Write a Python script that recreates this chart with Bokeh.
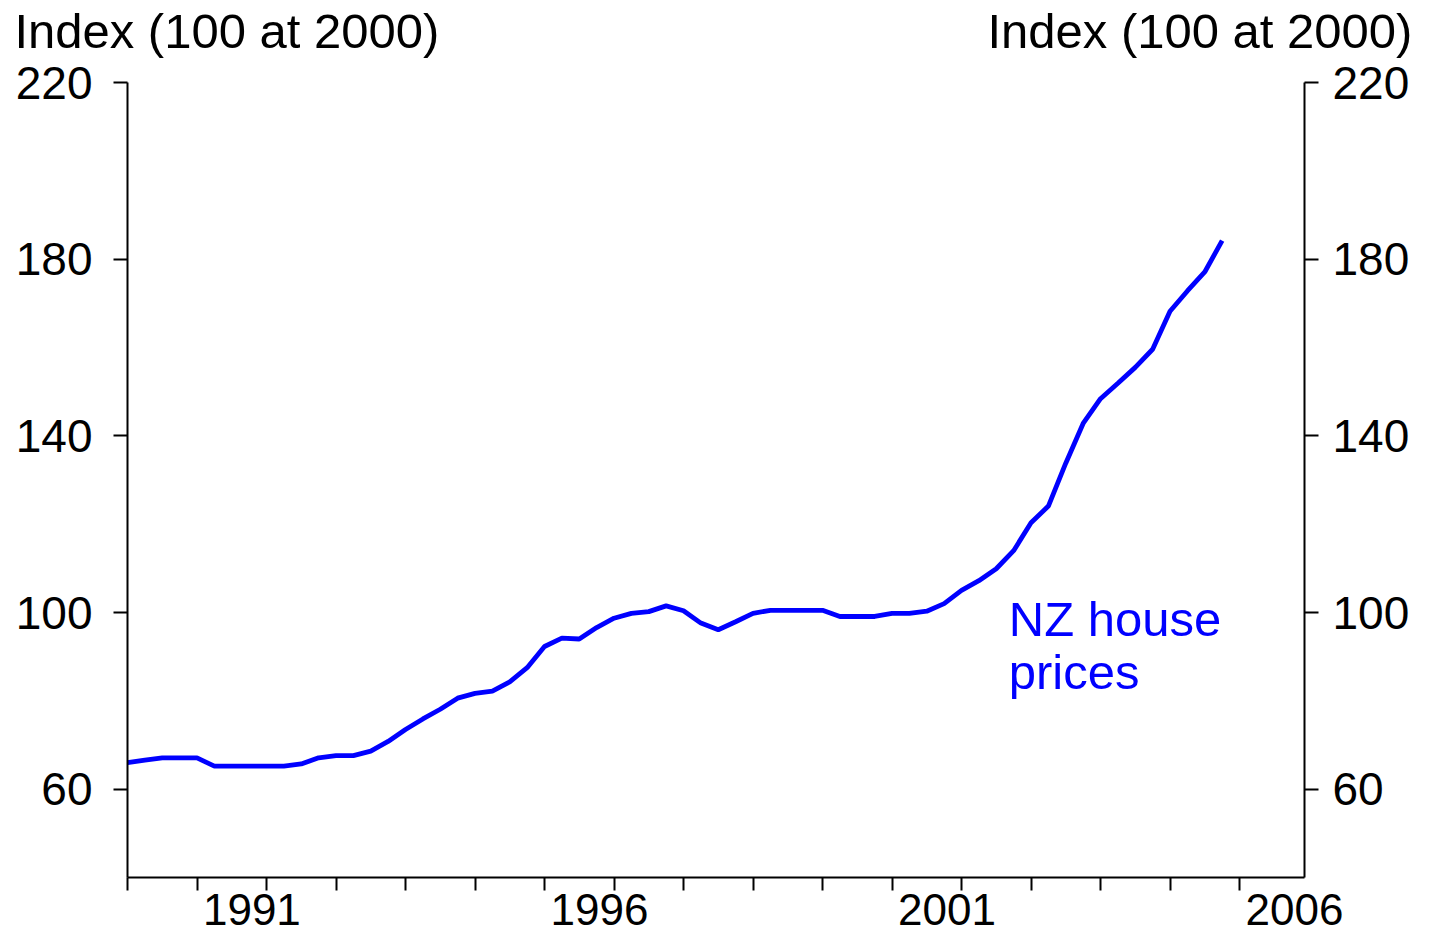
import numpy as np
from bokeh.plotting import figure
from bokeh.models import Range1d, LinearAxis, FixedTicker, ColumnDataSource
from bokeh.core.properties import value
from bokeh.embed import file_html
from bokeh.resources import INLINE

# ---- data (quarterly, 1989Q1 .. 2004Q4) ----
start_year = 1989
n_quarters = 64
dates = [start_year + i * 0.25 for i in range(n_quarters)]
nz_house_prices = [
    66.0, 66.6, 67.1, 67.1, 67.1, 65.2, 65.2, 65.2,
    65.2, 65.2, 65.7, 67.1, 67.6, 67.6, 68.6, 70.8,
    73.5, 75.9, 78.1, 80.6, 81.7, 82.2, 84.3, 87.5,
    92.3, 94.2, 94.0, 96.6, 98.7, 99.8, 100.2, 101.5,
    100.4, 97.6, 96.1, 97.9, 99.8, 100.5, 100.5, 100.5,
    100.5, 99.1, 99.1, 99.1, 99.8, 99.8, 100.3, 102.0,
    105.0, 107.2, 109.9, 114.0, 120.3, 124.1, 133.8, 142.8,
    148.4, 151.9, 155.5, 159.6, 168.2, 172.8, 177.1, 184.2,
]
year_ticks = list(range(1989, 2006))
year_labels = ["1991", "1996", "2001", "2006"]
year_label_pos = [1990.79, 1995.79, 2000.79, 2005.79]
y_ticks = [60, 100, 140, 180, 220]
axis_title = "Index (100 at 2000)"
title_pos = [1990.43, 2004.43]      # centres of the left / right axis titles
series_name = ["NZ house", "prices"]

FONT = "Liberation Sans"
BLUE = "#0000FF"

p = figure(width=1413, height=933, output_backend="svg", toolbar_location=None,
           x_range=Range1d(1989.0, 2005.935), y_range=Range1d(40, 220),
           min_border_left=127, min_border_right=109, min_border_top=82,
           min_border_bottom=56)
p.outline_line_color = None
p.xgrid.visible = False
p.ygrid.visible = False

src = ColumnDataSource(dict(x=dates, y=nz_house_prices))
p.line("x", "y", source=src, line_color=BLUE, line_width=4.8)

# bottom axis
xa = p.below[0]
xa.ticker = FixedTicker(ticks=year_label_pos, minor_ticks=year_ticks)
xa.major_label_overrides = {pos: lab for pos, lab in zip(year_label_pos, year_labels)}
xa.major_tick_out = 0
xa.major_tick_in = 0
xa.minor_tick_out = 13
xa.minor_tick_in = 0
xa.minor_tick_line_color = "black"
xa.minor_tick_line_width = 2
xa.axis_line_width = 2
xa.axis_line_color = "black"
xa.major_label_standoff = 3
xa.major_label_text_font = FONT
xa.major_label_text_font_size = "44px"
xa.major_label_text_color = "black"

# left axis
ya = p.left[0]
ya.ticker = FixedTicker(ticks=y_ticks)
ya.major_tick_out = 14
ya.major_tick_in = 0
ya.minor_tick_out = 0
ya.minor_tick_in = 0
ya.major_tick_line_width = 2
ya.axis_line_width = 2
ya.major_label_standoff = 21
ya.major_label_text_font = FONT
ya.major_label_text_font_size = "46px"
ya.major_label_text_color = "black"

# right axis
ra = LinearAxis(ticker=FixedTicker(ticks=y_ticks))
ra.major_tick_out = 14
ra.major_tick_in = 0
ra.minor_tick_out = 0
ra.minor_tick_in = 0
ra.major_tick_line_width = 2
ra.axis_line_width = 2
ra.major_label_standoff = 14
ra.major_label_text_font = FONT
ra.major_label_text_font_size = "46px"
ra.major_label_text_color = "black"
p.add_layout(ra, "right")

# top "axis" carrying the two axis titles as its labels
ta = LinearAxis(ticker=FixedTicker(ticks=title_pos, minor_ticks=[]))
ta.major_label_overrides = {pos: axis_title for pos in title_pos}
ta.axis_line_color = None
ta.major_tick_line_color = None
ta.minor_tick_line_color = None
ta.major_tick_out = 0
ta.major_tick_in = 0
ta.minor_tick_out = 0
ta.minor_tick_in = 0
ta.major_label_standoff = 25
ta.major_label_text_font = FONT
ta.major_label_text_font_size = "49px"
ta.major_label_text_color = "black"
p.add_layout(ta, "above")

# series label
p.text(x=[2001.68], y=[98.5], text=[series_name[0]], text_font=value(FONT),
       text_font_size="49px", text_color=BLUE, text_align="left", text_baseline="alphabetic")
p.text(x=[2001.68], y=[86.5], text=[series_name[1]], text_font=value(FONT),
       text_font_size="49px", text_color=BLUE, text_align="left", text_baseline="alphabetic")

open("out.html", "w").write(file_html(p, INLINE))
